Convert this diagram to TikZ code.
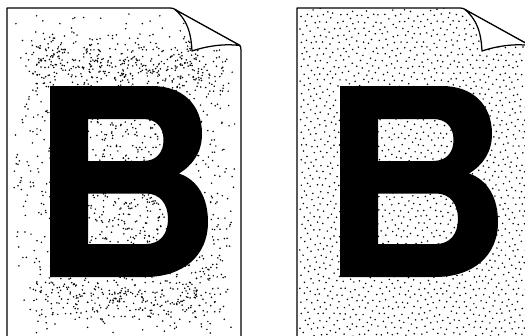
\documentclass[tikz,border=0pt]{standalone}
\tikzset{
  pageline/.style={line width=1.25pt,black,line join=round},
  flapline/.style={line width=1.25pt,black,fill=white,line join=round},
  stipple/.style={black},
  letterB/.style={fill=black,even odd rule},
}
\newcommand{\pageclip}{(7,8) -- (170,8) .. controls (174,8) and (176,10) .. (178,11.5) -- (239,45) .. controls (240.5,46) and (241,47) .. (241,50) -- (241,336) -- (7,336) -- cycle}
\newcommand{\pageoutline}{(7,336) -- (7,8) -- (170,8) .. controls (174,8) and (176,10) .. (178,11.5) -- (239,45) .. controls (240.5,46) and (241,47) .. (241,50) -- (241,336)}
\newcommand{\flapshape}{(175,9.5) .. controls (187,20) and (191,32) .. (192,51) .. controls (207,46) and (224,43.5) .. (240,45.5) -- cycle}
\newcommand{\letterpath}{(50,86) -- (152,86) .. controls (182,86) and (202,104) .. (202,134) .. controls (202,152) and (193,165) .. (179,173.5) .. controls (198,180) and (208,198) .. (208,222) .. controls (208,256) and (183,277) .. (145,277) -- (50,277) -- cycle
 (88,119) -- (143,119) .. controls (156,119) and (163.5,127) .. (163.5,140) .. controls (163.5,153) and (156,161) .. (143,161) -- (88,161) -- cycle
 (88,193.5) -- (146,193.5) .. controls (160,193.5) and (168,204) .. (168,219) .. controls (168,234) and (160,244) .. (146,244) -- (88,244) -- cycle}
\begin{document}
\begin{tikzpicture}[x=1pt,y=-1pt]
\useasboundingbox (0,0) rectangle (525,335);
\pgfmathsetseed{4217}
% left page: clustered stipple
\begin{scope}
\clip \pageclip;
\foreach \k in {1,...,7000}{
  \pgfmathsetmacro{\px}{13+rnd*222}
  \pgfmathsetmacro{\py}{14+rnd*320}
  \pgfmathsetmacro{\win}{max(0,min(1,(\px-18)/30))*max(0,min(1,(236-\px)/40))}
  \pgfmathsetmacro{\bandT}{max(0,1-abs(\py-66)/38)}
  \pgfmathsetmacro{\bandB}{max(0,1-abs(\py-296)/34)}
  \pgfmathsetmacro{\inC}{(\px>88)*(\px<170)*(\py>119)*(\py<244)}
  \pgfmathsetmacro{\side}{(\py>85)*(\py<280)*max(0,max(1-abs(\px-38)/26,1-abs(\px-212)/26))}
  \pgfmathsetmacro{\dens}{0.045+0.58*\win*max(\bandT,\bandB)+0.3*\inC+0.16*\side}
  \pgfmathsetmacro{\rr}{rnd}
  \ifdim\rr pt<\dens pt
    \fill[stipple] (\px,\py) circle (0.85);
  \fi
}
\end{scope}
\draw[pageline] \pageoutline;
\draw[flapline] \flapshape;
\fill[letterB] \letterpath;
% right page: even stipple on a wavy lattice
\begin{scope}[xshift=290pt]
\begin{scope}
\clip \pageclip;
\foreach \jj in {0,...,50}{
  \foreach \ii in {0,...,36}{
    \pgfmathsetmacro{\px}{11+6.5*\ii+3.25*mod(\jj,2)+2.6*(rnd-0.5)}
    \pgfmathsetmacro{\py}{12+6.5*\jj+3.5*sin(\px*9)+2.6*(rnd-0.5)}
    \fill[stipple] (\px,\py) circle (0.85);
  }
}
\end{scope}
\draw[pageline] \pageoutline;
\draw[flapline] \flapshape;
\fill[letterB] \letterpath;
\end{scope}
\end{tikzpicture}
\end{document}
